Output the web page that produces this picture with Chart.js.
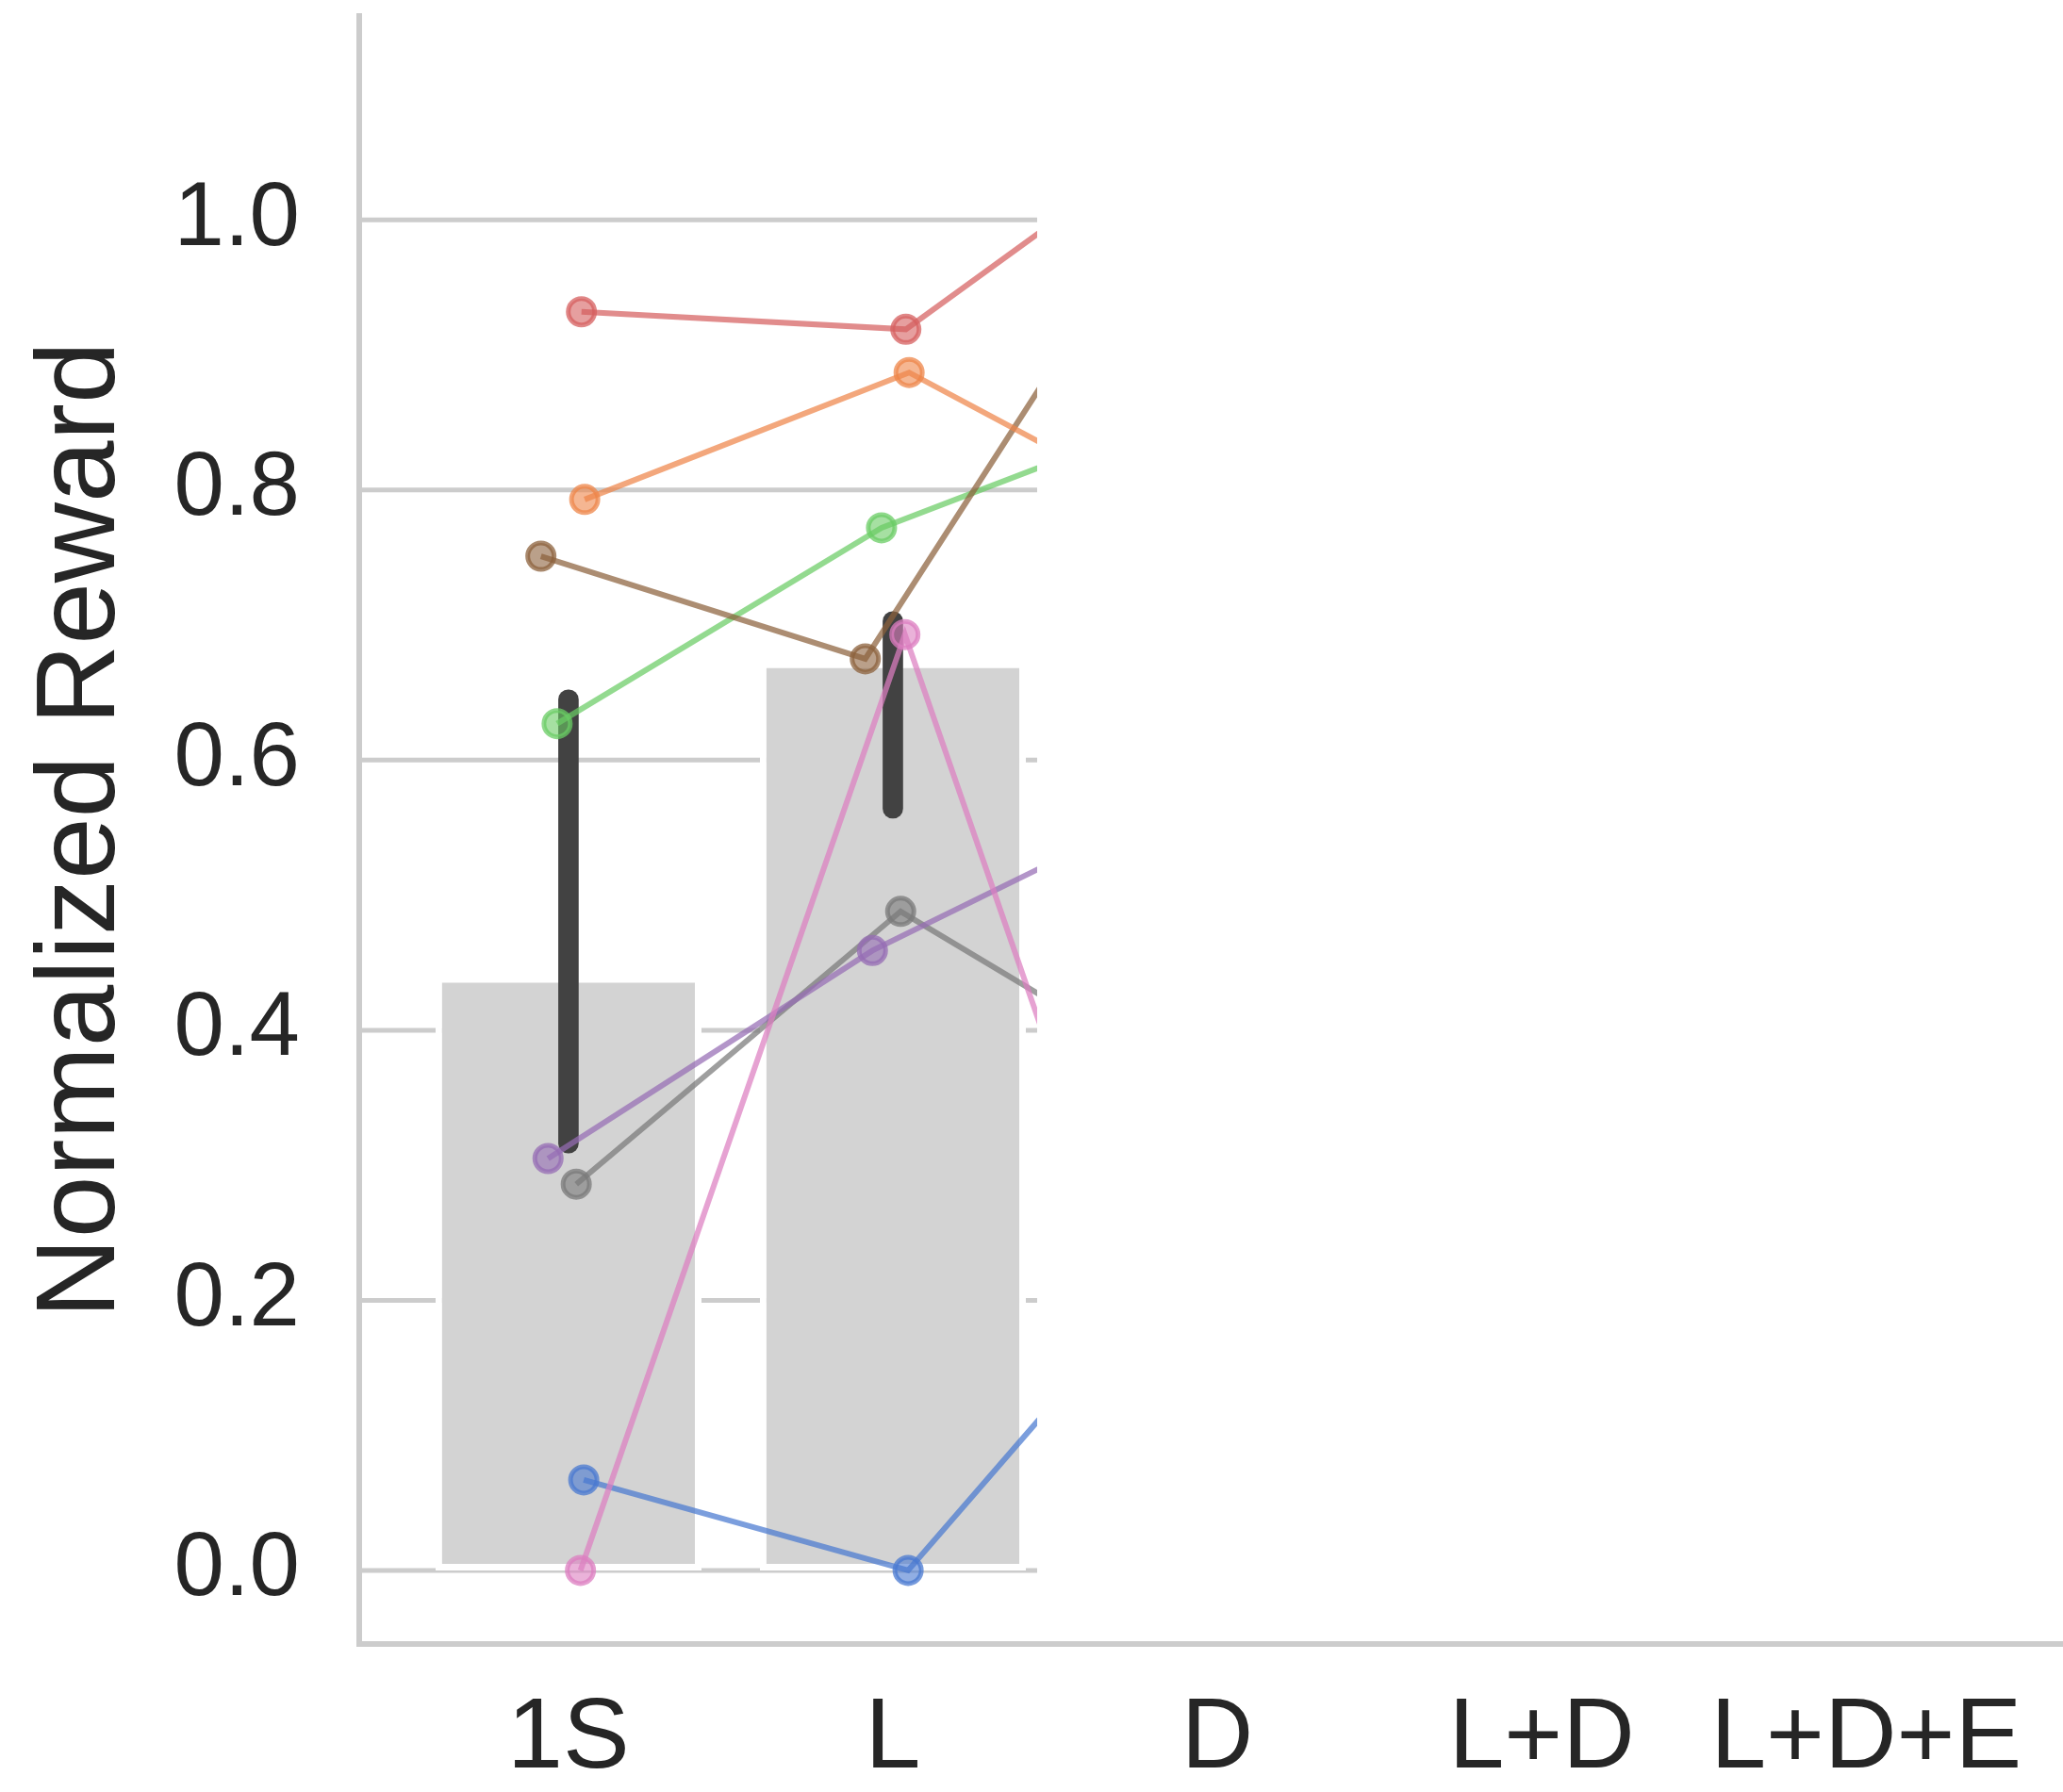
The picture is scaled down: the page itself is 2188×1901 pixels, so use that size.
<!DOCTYPE html>
<html lang="en">
<head>
<meta charset="UTF-8">
<title>Normalized Reward</title>
<style>
  html, body { margin: 0; padding: 0; background: #fff; }
  #chart { display: block; }
</style>
</head>
<body>
<canvas id="chart" width="2188" height="1901"></canvas>

<script src="https://cdn.jsdelivr.net/npm/chart.js@4.4.3/dist/chart.umd.min.js"></script>
<script>
const categories = ['1S', 'L', 'D', 'L+D', 'L+D+E']
const yTicks = [0, 0.2, 0.4, 0.6, 0.8, 1.0]

// mean bars and their error range (only 1S and L are visible)
const barMeans = [0.44, 0.673]
const errLow = [0.309, 0.557]
const errHigh = [0.652, 0.710]

// single runs at 1S, L, D
const runRed = [0.932, 0.919, 1.093]
const runOrange = [0.793, 0.887, 0.759]
const runBrown = [0.751, 0.675, 1.048]
const runGreen = [0.627, 0.772, 0.864]
const runPink = [0.0, 0.693, 0.0]
const runPurple = [0.305, 0.459, 0.577]
const runGray = [0.286, 0.488, 0.344]
const runBlue = [0.067, 0.0, 0.277]

// the frame only shows the plot up to here (x in category units)
const shownUpTo = 1.445

const runs = [
    { data: runRed, color: '214, 95, 95', jitter: 0.04 },
    { data: runOrange, color: '238, 133, 74', jitter: 0.05 },
    { data: runBrown, color: '140, 97, 60', jitter: -0.085 },
    { data: runGreen, color: '106, 204, 100', jitter: -0.035 },
    { data: runPink, color: '220, 126, 192', jitter: 0.037 },
    { data: runPurple, color: '149, 108, 180', jitter: -0.063 },
    { data: runGray, color: '121, 121, 121', jitter: 0.024 },
    { data: runBlue, color: '72, 120, 208', jitter: 0.047 },
]

const fontFamily = '"Liberation Sans", Arial, sans-serif'
const textColor = '#262626'
const axisColor = '#cccccc'

// grid lines + clip everything at the cut-off
const cutoff = {
    id: 'cutoff',
    beforeDatasetsDraw(chart) {
        const { ctx, chartArea, scales: { x, y } } = chart
        const right = x.getPixelForValue(shownUpTo)
        ctx.save()
        ctx.beginPath()
        ctx.rect(chartArea.left, 0, right - chartArea.left, chart.height)
        ctx.clip()
        ctx.strokeStyle = axisColor
        ctx.lineWidth = 5
        yTicks.forEach(v => {
            const py = y.getPixelForValue(v)
            ctx.beginPath()
            ctx.moveTo(chartArea.left, py)
            ctx.lineTo(right, py)
            ctx.stroke()
        })
    },
    afterDatasetsDraw(chart) {
        chart.ctx.restore()
    }
}

const lineSets = runs.map(r => ({
    type: 'line',
    order: 0,
    data: r.data.map((v, i) => ({ x: i + r.jitter, y: v })),
    borderColor: `rgba(${r.color}, 0.72)`,
    borderWidth: 6,
    pointRadius: 14,
    pointBorderWidth: 5,
    pointBackgroundColor: `rgba(${r.color}, 0.6)`,
    pointBorderColor: `rgba(${r.color}, 0.75)`,
    tension: 0,
}))

const errSet = {
    type: 'bar',
    order: 1,
    grouped: false,
    data: errLow.map((lo, i) => ({ x: i, y: [lo, errHigh[i]] })),
    backgroundColor: '#424242',
    barThickness: 21,
    borderRadius: 10.5,
    borderSkipped: false,
}

const barSet = {
    type: 'bar',
    order: 2,
    grouped: false,
    data: barMeans.map((v, i) => ({ x: i, y: v })),
    backgroundColor: '#d3d3d3',
    borderColor: '#ffffff',
    borderWidth: 7,
    borderSkipped: false,
    categoryPercentage: 0.82,
    barPercentage: 1.0,
}

const ctx = document.getElementById('chart').getContext('2d')

new Chart(ctx, {
    type: 'bar',
    data: { datasets: [...lineSets, errSet, barSet] },
    options: {
        responsive: false,
        animation: false,
        devicePixelRatio: 1,
        layout: { autoPadding: false, padding: { top: 17, bottom: 0, left: 0, right: 0 } },
        plugins: { legend: { display: false }, tooltip: { enabled: false } },
        scales: {
            x: {
                type: 'linear',
                offset: false,
                min: -0.645,
                max: 4.607,
                afterBuildTicks: s => { s.ticks = categories.map((c, i) => ({ value: i })) },
                afterFit: s => {
                    s.height = 157
                    s.paddingLeft = 0
                    s.paddingRight = 0
                },
                ticks: {
                    callback: v => categories[v],
                    font: { family: fontFamily, size: 106, lineHeight: 1 },
                    color: textColor,
                    padding: 49,
                    autoSkip: false,
                    maxRotation: 0,
                },
                grid: { display: false, drawTicks: false },
                border: { color: axisColor, width: 6 },
            },
            y: {
                type: 'linear',
                min: -0.0545,
                max: 1.151,
                afterBuildTicks: s => { s.ticks = yTicks.map(v => ({ value: v })) },
                afterFit: s => {
                    s.width = 381
                    s.paddingTop = 0
                    s.paddingBottom = 0
                },
                ticks: {
                    callback: v => v.toFixed(1),
                    font: { family: fontFamily, size: 96 },
                    color: textColor,
                    padding: 63,
                },
                grid: { display: false, drawTicks: false },
                border: { color: axisColor, width: 6 },
                title: {
                    display: true,
                    text: 'Normalized Reward',
                    font: { family: fontFamily, size: 118 },
                    color: textColor,
                    padding: { top: 18, bottom: 30 },
                },
            },
        },
    },
    plugins: [cutoff],
})
</script>
</body>
</html>
